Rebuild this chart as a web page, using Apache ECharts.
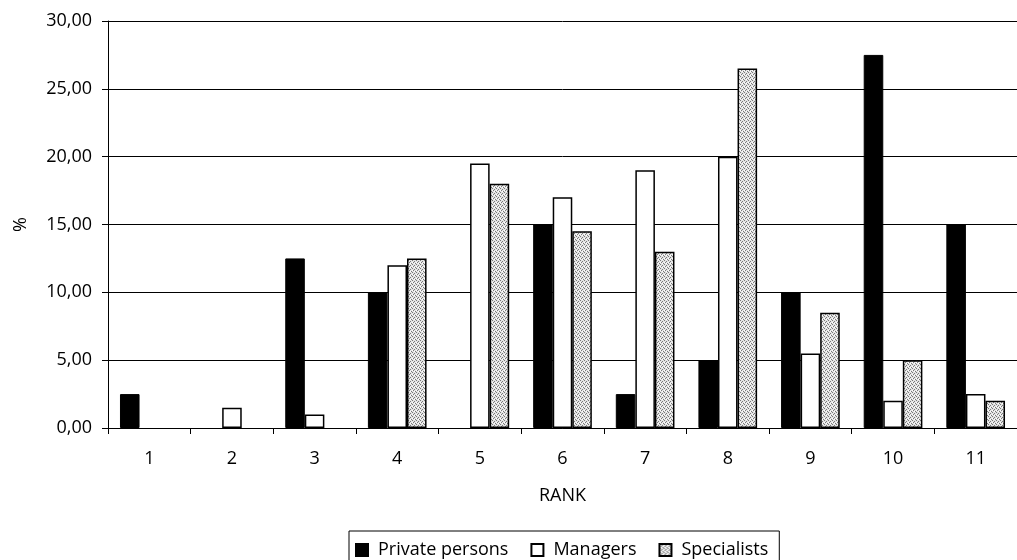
<!DOCTYPE html>
<html>
<head>
<meta charset="utf-8">
<script src="https://cdn.jsdelivr.net/npm/echarts@6/dist/echarts.min.js"></script>
<style>
html,body{margin:0;padding:0;background:#fff;overflow:hidden;}
#chart{width:1017px;height:560px;}
</style>
</head>
<body>
<div id="chart"></div>
<script>
const categories = ['1','2','3','4','5','6','7','8','9','10','11'];
const privatePersons = [2.5, 0, 12.5, 10, 0, 15, 2.5, 5, 10, 27.5, 15];
const managers = [0, 1.5, 1.0, 12, 19.5, 17, 19, 20, 5.5, 2, 2.5];
const specialists = [0, 0, 0, 12.5, 18, 14.5, 13, 26.5, 8.5, 5, 2];
const yTicks = [0, 5, 10, 15, 20, 25, 30];

function makePattern() {
  const c = document.createElement('canvas');
  c.width = 4; c.height = 4;
  const ctx = c.getContext('2d');
  ctx.fillStyle = '#e4e4e4';
  ctx.fillRect(0, 0, 4, 4);
  ctx.fillStyle = '#7a7a7a';
  [[0,0],[2,1],[1,2],[3,3]].forEach(p => ctx.fillRect(p[0], p[1], 1, 1));
  ctx.fillStyle = '#ffffff';
  [[2,3],[0,2]].forEach(p => ctx.fillRect(p[0], p[1], 1, 1));
  return c;
}

const FONT = 'Open Sans';
const FS = 18;
const chart = echarts.init(document.getElementById('chart'), null, {renderer: 'canvas'});
const zeroNull = arr => arr.map(v => v === 0 ? null : v);

chart.setOption({
  animation: false,
  textStyle: {fontFamily: FONT, color: '#000'},
  grid: {left: 108, top: 21, width: 918, height: 407, containLabel: false},
  legend: {
    left: 349, top: 531,
    itemWidth: 12, itemHeight: 12,
    itemGap: 22,
    padding: [10, 11, 10, 6],
    borderColor: '#000', borderWidth: 1,
    textStyle: {fontFamily: FONT, fontSize: FS, color: '#000', padding: [0, 0, 0, 5]},
    data: [
      {name: 'Private persons', icon: 'rect'},
      {name: 'Managers', icon: 'rect'},
      {name: 'Specialists', icon: 'rect'}
    ]
  },
  xAxis: {
    type: 'category',
    data: categories,
    name: 'RANK',
    nameLocation: 'middle',
    nameGap: 59,
    nameTextStyle: {fontFamily: FONT, fontSize: FS, color: '#000'},
    axisLine: {lineStyle: {color: '#000', width: 1}},
    axisTick: {show: true, length: 6, lineStyle: {color: '#000'}},
    axisLabel: {fontFamily: FONT, fontSize: FS, color: '#000', margin: 22},
    splitLine: {show: false}
  },
  yAxis: {
    type: 'value',
    min: yTicks[0], max: yTicks[yTicks.length - 1], interval: 5,
    name: '%',
    nameLocation: 'middle',
    nameRotate: 90,
    nameGap: 78,
    nameTextStyle: {fontFamily: FONT, fontSize: FS, color: '#000'},
    axisLine: {show: true, lineStyle: {color: '#000', width: 1}},
    axisTick: {show: true, length: 6, lineStyle: {color: '#000'}},
    axisLabel: {
      fontFamily: FONT, fontSize: FS, color: '#000', margin: 16,
      formatter: v => v.toFixed(2).replace('.', ',')
    },
    splitLine: {show: true, lineStyle: {color: '#000', width: 1}}
  },
  series: [
    {
      name: 'Private persons', type: 'bar', data: zeroNull(privatePersons),
      barGap: '0%', barCategoryGap: '29%',
      itemStyle: {color: '#000', borderColor: '#000', borderWidth: 1}
    },
    {
      name: 'Managers', type: 'bar', data: zeroNull(managers),
      barGap: '0%', barCategoryGap: '29%',
      itemStyle: {color: '#fff', borderColor: '#000', borderWidth: 1.5}
    },
    {
      name: 'Specialists', type: 'bar', data: zeroNull(specialists),
      barGap: '0%', barCategoryGap: '29%',
      itemStyle: {color: {image: makePattern(), repeat: 'repeat'}, borderColor: '#000', borderWidth: 1.5}
    }
  ]
});
</script>
</body>
</html>
